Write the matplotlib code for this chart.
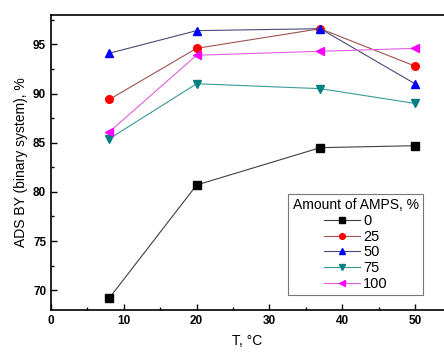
import matplotlib
matplotlib.use('Agg')
import matplotlib.pyplot as plt
from matplotlib.ticker import MultipleLocator

plt.rcParams['font.family'] = ['Liberation Sans', 'DejaVu Sans']

temps = [8, 20, 37, 50]
amps_labels = ['0', '25', '50', '75', '100']
ads_0 = [69.2, 80.7, 84.5, 84.7]
ads_25 = [89.4, 94.6, 96.6, 92.8]
ads_50 = [94.1, 96.4, 96.6, 91.0]
ads_75 = [85.4, 91.0, 90.5, 89.0]
ads_100 = [86.1, 93.9, 94.3, 94.6]

series = [ads_0, ads_25, ads_50, ads_75, ads_100]
markers = ['s', 'o', '^', 'v', '<']
marker_colors = ['#000000', '#ff0000', '#0000ff', '#008080', '#ff00ff']
line_colors = ['#404040', '#a0524d', '#4a4a7a', '#3a9a9a', '#e060e0']

fig = plt.figure(figsize=(4.44, 3.55), dpi=100)
ax = fig.add_axes([0.115, 0.127, 0.885, 0.831])

for vals, lab, m, mc, lc in zip(series, amps_labels, markers, marker_colors, line_colors):
    ax.plot(temps, vals, color=lc, lw=0.8, marker=m, markersize=5.5,
            markerfacecolor=mc, markeredgecolor=mc, label=lab)

ax.set_xlim(0, 54)
ax.set_ylim(68, 98)
ax.xaxis.set_major_locator(MultipleLocator(10))
ax.xaxis.set_minor_locator(MultipleLocator(5))
ax.yaxis.set_major_locator(MultipleLocator(5))
ax.yaxis.set_minor_locator(MultipleLocator(2.5))
ax.tick_params(which='both', direction='in', right=False, top=False)
ax.tick_params(which='major', length=4, width=1, labelsize=8.5)
ax.tick_params(which='minor', length=2.5, width=1)
for t in ax.get_xticklabels() + ax.get_yticklabels():
    t.set_fontweight('bold')
for s in ax.spines.values():
    s.set_linewidth(1.2)
ax.spines['right'].set_visible(False)

ax.set_xlabel('T, °C', fontsize=10, labelpad=5)
ax.set_ylabel('ADS BY (binary system), %', fontsize=10)

leg = ax.legend(title='Amount of AMPS, %', loc='lower right',
                bbox_to_anchor=(0.965, 0.025), fontsize=10.5, title_fontsize=10,
                frameon=True, fancybox=False, edgecolor='#555555',
                handlelength=2.5, handletextpad=0.2, labelspacing=0.12,
                borderpad=0.3, markerscale=0.75)
leg.get_frame().set_linewidth(0.8)

fig.savefig('out.png', dpi=100)
